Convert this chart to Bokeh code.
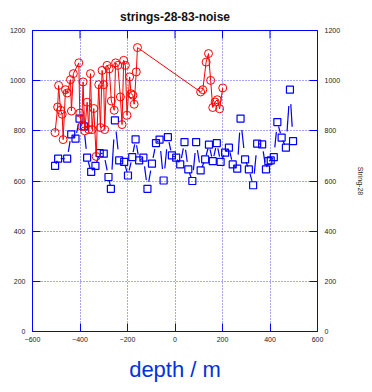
import numpy as np
from bokeh.plotting import figure
from bokeh.models import LinearAxis, Range1d, FixedTicker, Title, ColumnDataSource
from bokeh.embed import file_html
from bokeh.resources import INLINE

# String 83 (red): depth [m] and value
red_depth = [-505, -494, -490, -482, -475, -471, -461, -454, -440, -436, -428,
             -405, -401, -393, -387, -380, -370, -363, -356, -349, -342, -332,
             -321, -314, -307, -300, -296, -286, -277, -268, -256, -250, -241,
             -230, -223, -216, -209, -202, -191, -185, -177, -172, -163, -158,
             108, 117, 131, 141, 150, 159, 169, 178, 188, 201]
red_value = [793, 895, 981, 882, 866, 765, 964, 951, 1004, 879, 1028,
             1071, 871, 818, 995, 800, 914, 805, 1028, 805, 889, 698,
             984, 813, 1041, 984, 805, 1061, 1047, 919, 882, 1071, 1061,
             935, 825, 1081, 1061, 862, 1015, 948, 942, 906, 1035, 1132,
             955, 964, 1074, 1108, 1001, 893, 915, 924, 888, 971]

# String 28 (blue): depth [m] and value
blue_depth = [-505, -492, -454, -437, -419, -402, -384, -370, -353, -335, -317,
              -300, -280, -270, -253, -235, -214, -198, -180, -166, -151, -133,
              -116, -97, -80, -65, -48, -30, -13, 5, 22, 40, 56, 73, 89, 108,
              127, 143, 159, 176, 192, 211, 227, 243, 262, 276, 295, 311, 329,
              346, 367, 383, 393, 403, 416, 431, 449, 467, 484, 497]
blue_value = [660, 689, 689, 786, 769, 849, 818, 693, 636, 660, 711,
              709, 616, 569, 842, 682, 676, 622, 695, 766, 682, 693,
              569, 669, 751, 765, 602, 775, 702, 693, 666, 755, 646, 600, 755, 642,
              686, 745, 679, 751, 676, 713, 733, 666, 649, 849, 686, 646, 583,
              749, 746, 646, 679, 682, 695, 835, 773, 733, 964, 759]

x_ticks = [-600, -400, -200, 0, 200, 400, 600]
y_ticks = [0, 200, 400, 600, 800, 1000, 1200]

BLUE = "#0000ff"
TICK_FONT = "7px"

p = figure(width=372, height=392,
           x_range=Range1d(-600, 600), y_range=Range1d(0, 1200),
           output_backend="svg", toolbar_location=None,
           min_border_left=32, min_border_right=55,
           min_border_top=30, min_border_bottom=61,
           background_fill_color="white", border_fill_color="white")

p.title.text = "strings-28-83-noise"
p.title.align = "center"
p.title.offset = 8
p.title.standoff = 14
p.title.text_font = "Liberation Sans"
p.title.text_font_size = "12px"
p.title.text_font_style = "bold"
p.title.text_color = "#111111"

p.outline_line_color = BLUE
p.outline_line_width = 1

# dotted blue grid
for g in (p.xgrid[0], p.ygrid[0]):
    g.grid_line_color = BLUE
    g.grid_line_alpha = 0.7
    g.grid_line_dash = "1 2"
    g.grid_line_width = 1
p.xgrid[0].ticker = FixedTicker(ticks=x_ticks)
p.ygrid[0].ticker = FixedTicker(ticks=y_ticks)

p.add_layout(LinearAxis(), "right")

for ax in p.axis:
    ax.axis_line_color = BLUE
    ax.major_tick_line_color = BLUE
    ax.major_tick_in = 8
    ax.major_tick_out = 0
    ax.minor_tick_line_color = None
    ax.major_label_text_font = "Liberation Sans"
    ax.major_label_text_font_size = TICK_FONT
    ax.major_label_text_color = "#222222"

for ax in p.xaxis:
    ax.ticker = FixedTicker(ticks=x_ticks)
for ax in p.yaxis:
    ax.ticker = FixedTicker(ticks=y_ticks)

p.below[0].major_label_standoff = 5
p.left[0].major_label_standoff = 7

right_axis = p.right[0]
right_axis.major_label_standoff = 7
right_axis.axis_label = "String-28"
right_axis.axis_label_text_font = "Liberation Sans"
right_axis.axis_label_text_font_size = "7px"
right_axis.axis_label_text_font_style = "normal"
right_axis.axis_label_text_color = "#222222"
right_axis.axis_label_standoff = 14

# x axis caption below the tick labels
xlabel = Title(text="depth / m", align="center", offset=30, standoff=20,
               text_font="Liberation Sans", text_font_size="22px",
               text_font_style="normal", text_color="#0033dd")
p.add_layout(xlabel, "below")

# inward tick marks along the top edge of the frame
p.scatter(x_ticks, [y_ticks[-1]] * len(x_ticks), marker="dash", angle=np.pi / 2,
          size=16, line_color=BLUE, line_width=1)

# blue: connecting strokes with gaps next to each marker
bx = np.array(blue_depth, dtype=float)
by = np.array(blue_value, dtype=float)
gap = 0.28
seg = ColumnDataSource(dict(
    x0=bx[:-1] + gap * (bx[1:] - bx[:-1]),
    y0=by[:-1] + gap * (by[1:] - by[:-1]),
    x1=bx[1:] - gap * (bx[1:] - bx[:-1]),
    y1=by[1:] - gap * (by[1:] - by[:-1]),
))
p.segment("x0", "y0", "x1", "y1", source=seg, line_color=BLUE, line_width=1.2)
p.scatter(blue_depth, blue_value, marker="square", size=7,
          fill_color=None, line_color=BLUE, line_width=1.2)

# red: solid line through open circles
p.line(red_depth, red_value, line_color="#ff0000", line_width=1)
p.scatter(red_depth, red_value, marker="circle", size=8,
          fill_color=None, line_color="#ff0000", line_width=1)

open("out.html", "w").write(file_html(p, INLINE))
